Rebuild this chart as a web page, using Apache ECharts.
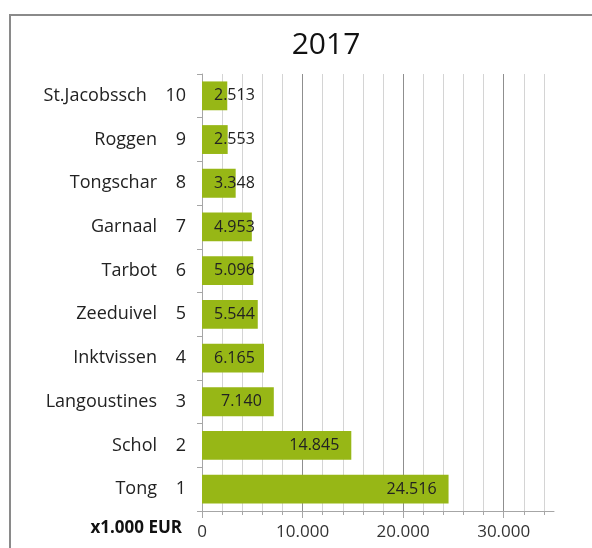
<!DOCTYPE html>
<html><head><meta charset="utf-8">
<script src="https://cdn.jsdelivr.net/npm/echarts@6/dist/echarts.min.js"></script>
<style>html,body{margin:0;padding:0;background:#fff}#c{width:592px;height:548px}</style>
</head><body><div id="c"></div>
<script>
// Data (bottom to top, rank 1..10)
var names = ['Tong','Schol','Langoustines','Inktvissen','Zeeduivel','Tarbot','Garnaal','Tongschar','Roggen','St.Jacobssch'];
var ranks = [1,2,3,4,5,6,7,8,9,10];
var values = [24516,14845,7140,6165,5544,5096,4953,3348,2553,2513];
var title = '2017';
var unitLabel = 'x1.000 EUR';
var xMax = 35000;
var xMajor = 10000;
var xMinor = 2000;

var FONT = 'Open Sans';
function fmt(v){ return String(v).replace(/\B(?=(\d{3})+(?!\d))/g, '.'); }
var cats = names.map(function(n,i){ return n + '    ' + ranks[i]; });

var chart = echarts.init(document.getElementById('c'), null, {renderer:'canvas'});
var L = 202, R = 554, T = 74, B = 511;
var pxPer = (R - L) / xMax;
var lastMinor = Math.floor((xMax - 1) / xMinor) * xMinor; // 34000
var lastMajor = Math.floor((xMax - 1) / xMajor) * xMajor; // 30000

var minorColors = ['#8f8f8f','#d4d4d4','#d4d4d4','#d4d4d4','#d4d4d4'];

chart.setOption({
  animation:false,
  backgroundColor:'#fff',
  textStyle:{fontFamily:FONT},
  title:{text:title, left:321, top:25, textAlign:'center',
    textStyle:{fontFamily:FONT, fontSize:30, fontWeight:'normal', color:'#111'}},
  grid:[
    {left:L, top:T, width:R-L, height:B-T},
    {left:L, top:T, width:lastMinor*pxPer, height:B-T},
    {left:L, top:T, width:lastMajor*pxPer, height:B-T}
  ],
  xAxis:[
    {gridIndex:0, type:'value', min:0, max:xMax, interval:xMajor,
      axisLine:{show:true, lineStyle:{color:'#a6a6a6', width:1}},
      axisTick:{show:false}, splitLine:{show:false},
      axisLabel:{show:true, margin:13, color:'#333', fontSize:17, fontFamily:FONT,
        formatter:function(v){ return v >= xMax ? '' : fmt(v); }}},
    {gridIndex:1, type:'value', min:0, max:lastMinor, interval:xMinor,
      axisLine:{show:false}, axisLabel:{show:false},
      axisTick:{show:true, length:4, lineStyle:{color:'#a6a6a6'}},
      splitLine:{show:true, lineStyle:{color:minorColors, width:1}}},
    {gridIndex:2, type:'value', min:0, max:lastMajor, interval:xMajor,
      axisLine:{show:false}, axisLabel:{show:false}, splitLine:{show:false},
      axisTick:{show:true, length:7, lineStyle:{color:'#a6a6a6'}}}
  ],
  yAxis:[
    {gridIndex:0, type:'category', data:cats,
      axisLine:{show:true, lineStyle:{color:'#a6a6a6'}},
      axisTick:{show:true, length:5, lineStyle:{color:'#a6a6a6'}},
      axisLabel:{margin:16, color:'#222', fontSize:18, fontFamily:FONT}},
    {gridIndex:1, type:'category', data:cats, show:false},
    {gridIndex:2, type:'category', data:cats, show:false}
  ],
  series:[{
    type:'bar', xAxisIndex:0, yAxisIndex:0, barCategoryGap:'34%',
    itemStyle:{color:'#97b716'},
    data: values.map(function(v){
      var small = v * pxPer < 66;
      return {value:v, label:{position: small ? 'insideLeft' : 'insideRight'}};
    }),
    label:{show:true, distance:12, color:'#222', fontSize:16, fontFamily:FONT,
      formatter:function(p){ return fmt(p.value); }},
    z:3
  }],
  graphic:[
    {type:'rect', shape:{x:10, y:15, width:700, height:700}, style:{fill:'none', stroke:'#8a8a8a', lineWidth:2}, z:-1},
    {type:'text', right:592-182, top:520, style:{text:unitLabel, font:'bold 17px "'+FONT+'"', fill:'#111', textAlign:'right'}}
  ]
});
</script></body></html>
